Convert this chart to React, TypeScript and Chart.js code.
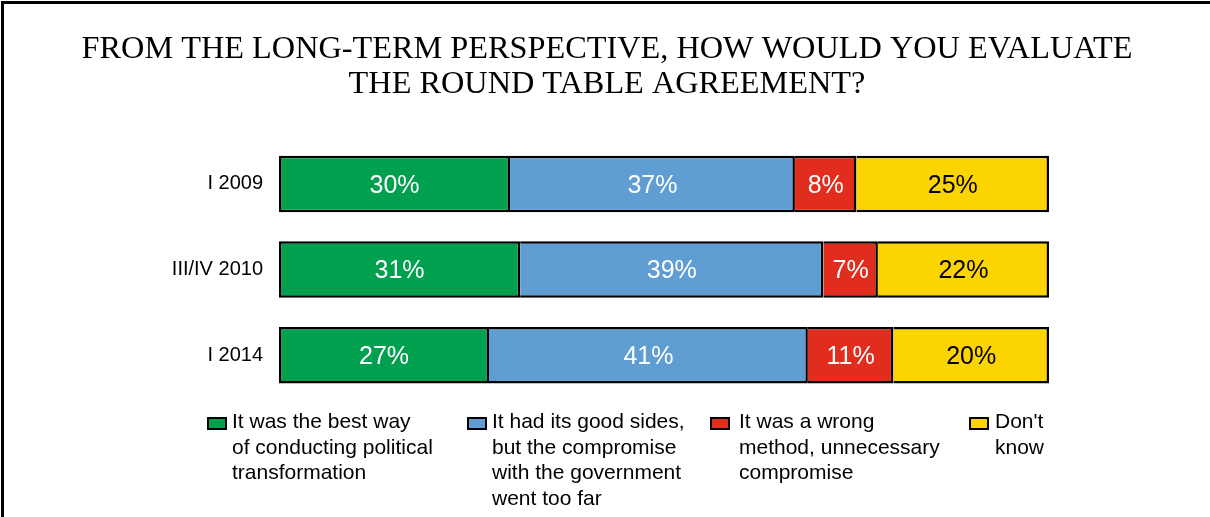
import React, { useEffect, useRef } from "react";
import { Chart, registerables } from "chart.js";

Chart.register(...registerables);

const titleLines = [
  "FROM THE LONG-TERM PERSPECTIVE, HOW WOULD YOU EVALUATE",
  "THE ROUND TABLE AGREEMENT?",
];
const categories = ["I 2009", "III/IV 2010", "I 2014"];
const seriesNames = [
  "It was the best way of conducting political transformation",
  "It had its good sides, but the compromise with the government went too far",
  "It was a wrong method, unnecessary compromise",
  "Don't know",
];
const bestWay = [30, 31, 27];
const goodSides = [37, 39, 41];
const wrongMethod = [8, 7, 11];
const dontKnow = [25, 22, 20];
const legendLines = [
  ["It was the best way", "of conducting political", "transformation"],
  ["It had its good sides,", "but the compromise", "with the government", "went too far"],
  ["It was a wrong", "method, unnecessary", "compromise"],
  ["Don't", "know"],
];
const seriesColors = ["#00A04F", "#5F9DD3", "#E02D1E", "#FCD400"];
const labelColors = ["#FFFFFF", "#FFFFFF", "#FFFFFF", "#000000"];

const legendBoxLeft = [207, 467, 710, 969];
const legendTextLeft = [232, 492, 739, 995];

export default function App() {
  const canvasRef = useRef<HTMLCanvasElement | null>(null);

  useEffect(() => {
    const canvas = canvasRef.current;
    if (!canvas) return;
    const raw = [bestWay, goodSides, wrongMethod, dontKnow];
    const totals = categories.map((_, i) => raw.reduce((s, arr) => s + arr[i], 0));
    const datasets = raw.map((arr, d) => ({
      label: seriesNames[d],
      data: arr.map((v, i) => (v / totals[i]) * 100),
      rawValues: arr,
      backgroundColor: seriesColors[d],
      borderColor: "#000000",
      borderWidth: 2.5,
      borderSkipped: d === 0 ? (false as const) : ("start" as const),
      barPercentage: 0.66,
      categoryPercentage: 1,
    }));

    const valueLabels = {
      id: "valueLabels",
      afterDatasetsDraw(chart: any) {
        const ctx = chart.ctx;
        ctx.save();
        ctx.font = "25px 'Liberation Sans', Arial, sans-serif";
        ctx.textAlign = "center";
        ctx.textBaseline = "middle";
        chart.data.datasets.forEach((ds: any, d: number) => {
          const meta = chart.getDatasetMeta(d);
          meta.data.forEach((el: any, i: number) => {
            const cx = (el.x + el.base) / 2;
            ctx.fillStyle = labelColors[d];
            ctx.fillText(ds.rawValues[i] + "%", cx, el.y + 2);
          });
        });
        ctx.restore();
      },
    };

    const chart = new Chart(canvas, {
      type: "bar",
      data: { labels: categories, datasets: datasets as any },
      options: {
        indexAxis: "y",
        responsive: false,
        animation: false,
        layout: { padding: { left: 4, right: 0, top: 0, bottom: 119 } },
        plugins: {
          legend: { display: false },
          tooltip: { enabled: false },
          title: {
            display: true,
            text: titleLines,
            color: "#000000",
            font: { family: "'Liberation Serif', 'Times New Roman', serif", size: 32.3, weight: "normal", lineHeight: 1.094 },
            padding: { top: 31.7, bottom: 38.7 },
          },
        },
        scales: {
          x: { stacked: true, min: 0, max: 100, display: false },
          y: {
            stacked: true,
            grid: { display: false, drawTicks: false },
            border: { display: false },
            ticks: {
              color: "#000000",
              padding: 16,
              font: { family: "'Liberation Sans', Arial, sans-serif", size: 20 },
            },
            afterFit(scale: any) {
              scale.width = 275;
            },
          },
          yRight: {
            type: "category",
            axis: "y",
            position: "right",
            display: true,
            grid: { display: false, drawTicks: false },
            border: { display: false },
            ticks: { display: false },
            afterFit(scale: any) {
              scale.width = 161;
            },
          } as any,
        },
      },
      plugins: [valueLabels],
    });
    return () => chart.destroy();
  }, []);

  return (
    <div
      style={{
        position: "fixed",
        left: 0,
        top: 0,
        width: 1210,
        height: 517,
        overflow: "hidden",
        background: "#ffffff",
      }}
    >
      <canvas ref={canvasRef} width={1210} height={517} style={{ position: "absolute", left: 0, top: 0 }} />
      <div
        style={{
          position: "absolute",
          left: 1,
          top: 1,
          width: 1400,
          height: 700,
          borderLeft: "3px solid #000",
          borderTop: "3px solid #000",
          pointerEvents: "none",
        }}
      />
      {legendLines.map((lines, k) => (
        <React.Fragment key={k}>
          <div
            style={{
              position: "absolute",
              left: legendBoxLeft[k],
              top: 417,
              width: 20,
              height: 13,
              boxSizing: "border-box",
              border: "2px solid #000",
              background: seriesColors[k],
            }}
          />
          <div
            style={{
              position: "absolute",
              left: legendTextLeft[k],
              top: 408,
              fontFamily: "'Liberation Sans', Arial, sans-serif",
              fontSize: 21,
              lineHeight: "25.5px",
              color: "#000",
              whiteSpace: "nowrap",
            }}
          >
            {lines.map((t, j) => (
              <div key={j}>{t}</div>
            ))}
          </div>
        </React.Fragment>
      ))}
    </div>
  );
}
